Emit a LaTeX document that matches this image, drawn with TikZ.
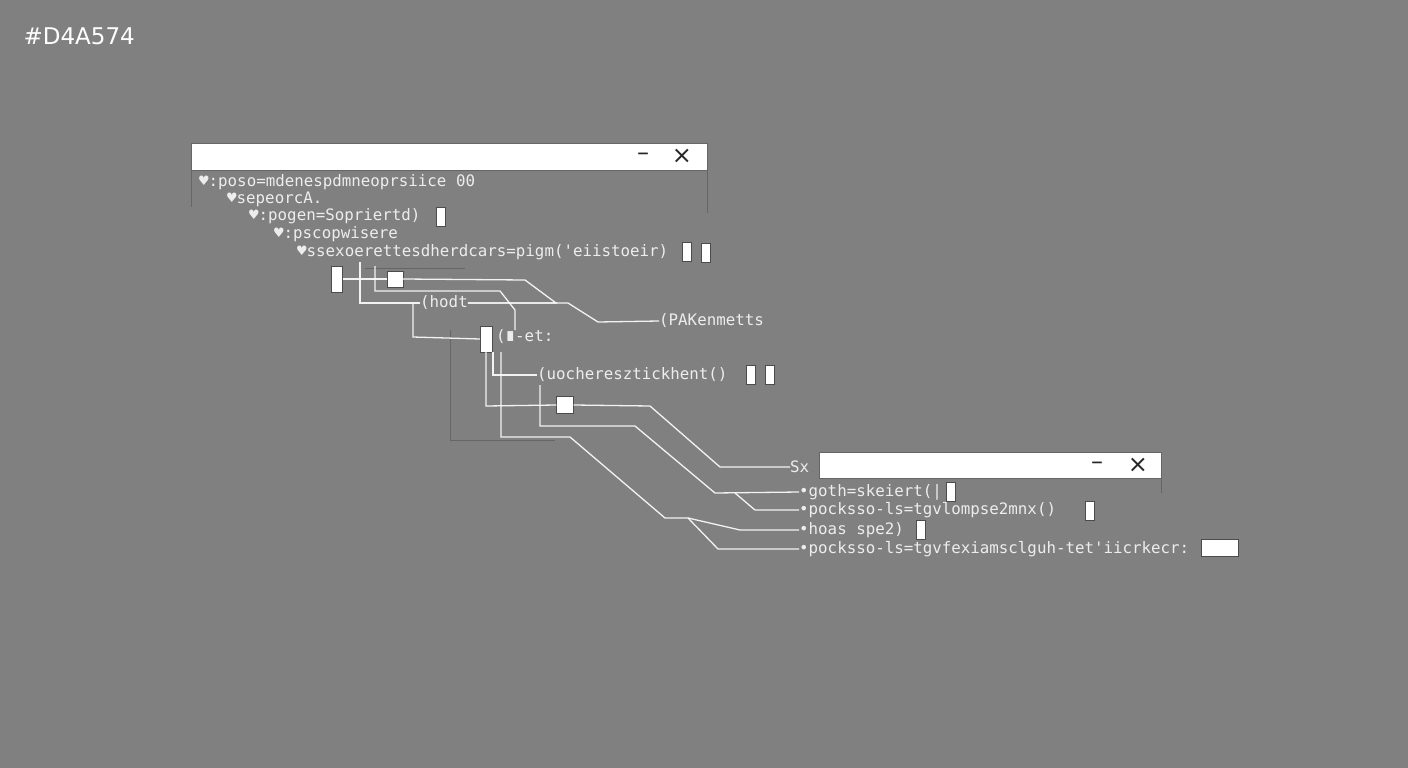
\documentclass[tikz,border=0pt]{standalone}
\usepackage{fontspec}
\setmainfont{DejaVu Sans}
\setmonofont{DejaVu Sans Mono}
\usetikzlibrary{positioning}
\definecolor{bggray}{HTML}{808080}
\definecolor{txtgray}{HTML}{EDEDED}
\begin{document}
\begin{tikzpicture}[x=1pt,y=-1pt]
\tikzstyle{code}=[anchor=west, inner sep=0pt, text=txtgray, font=\ttfamily\fontsize{15.8}{16}\selectfont]
\tikzstyle{win}=[fill=white, draw=black!60, thick]
\tikzstyle{ctl}=[font=\fontsize{24}{24}\selectfont, text=black!85]
\tikzstyle{tick}=[fill=white, draw=black!70, inner sep=0pt, minimum width=9pt, minimum height=19pt]
\tikzstyle{wire}=[white, line width=1.3pt, draw opacity=0.9]
\tikzstyle{guide}=[black!60, thin]
\fill[bggray] (0,0) rectangle (1408,768);
\useasboundingbox (0,0) rectangle (1408,768);
\node[anchor=west, text=white, font=\fontsize{23}{23}\selectfont] (hex) at (20,36) {\#D4A574};
% first window
\draw[win] (191,143) rectangle (707,170);
\node[ctl] (min1) at (643,157) {–};
\node[ctl] (cls1) at (682,156) {×};
\draw[guide] (191,170) -- (191,207) (707,170) -- (707,213);
\node[code] (l1) at (199,182) {♥:poso=mdenespdmneoprsiice 00};
\node[code] (l2) at (227,199) {♥sepeorcA.};
\node[code] (l3) at (249,216) {♥:pogen=Sopriertd)};
\node[tick] (t3) at (441,217) {};
\node[code] (l4) at (274,234) {♥:pscopwisere};
\node[code] (l5) at (297,252) {♥ssexoerettesdherdcars=pigm('eiistoeir)};
\node[tick] (t5a) at (687,252) {};
\node[tick] (t5b) at (706,253) {};
% boxes and labels
\node[tick, minimum height=26pt, minimum width=11pt] (boxa) at (337,279) {};
\node[tick, minimum width=16pt, minimum height=16pt] (boxb) at (395,279) {};
\node[code] (hodt) at (420,303) {(hodt};
\node[code] (pak) at (659,321) {(PAKenmetts};
\node[tick, minimum height=26pt, minimum width=12pt] (boxc) at (486,339) {};
\node[code] (et) at (496,337) {(∎-et:};
\node[code] (uoch) at (537,375) {(uocheresztickhent()};
\node[tick] (t6a) at (751,375) {};
\node[tick] (t6b) at (770,375) {};
\node[tick, minimum width=17pt, minimum height=17pt] (boxd) at (565,405) {};
% second window
\draw[win] (819,452) rectangle (1161,478);
\node[ctl] (min2) at (1097,466) {–};
\node[ctl] (cls2) at (1138,465) {×};
\draw[guide] (1161,478) -- (1161,493);
\node[code] (sx) at (790,467) {Sx};
\node[code] (b1) at (799,492) {•goth=skeiert(|};
\node[tick] (tb1) at (951,492) {};
\node[code] (b2) at (799,510) {•pocksso-ls=tgvlompse2mnx()};
\node[tick] (tb2) at (1090,511) {};
\node[code] (b3) at (799,530) {•hoas spe2)};
\node[tick] (tb3) at (921,530) {};
\node[code] (b4) at (799,549) {•pocksso-ls=tgvfexiamsclguh-tet'iicrkecr:};
\node[tick, minimum width=37pt, minimum height=17pt] (tb4) at (1220,548) {};
% connectors
\draw[guide] (450,330) -- (450,440) -- (555,440);
\draw[guide] (365,268) -- (465,268);
\draw[wire] (boxa.east) -- (boxb.west);
\draw[wire] (boxb.east) -- (525,280) -- (556,303) -- (hodt.east |- 0,303);
\draw[wire] (hodt.east) -- (568,303) -- (598,322) -- (pak.west);
\draw[wire] (360,262) -- (360,303) -- (hodt.west);
\draw[wire] (375,266) -- (375,291) -- (500,291) -- (515,310) -- (515,330);
\draw[wire] (413,303) -- (413,337) -- (boxc.west);
\draw[wire] (493,352) -- (493,375) -- (uoch.west);
\draw[wire] (486,352) -- (486,406) -- (boxd.west);
\draw[wire] (boxd.east) -- (650,406) -- (720,467) -- (sx.west);
\draw[wire] (540,385) -- (540,426) -- (635,426) -- (715,493) -- (b1.west);
\draw[wire] (735,493) -- (755,510) -- (b2.west);
\draw[wire] (501,352) -- (501,437) -- (570,437) -- (665,518) -- (688,518) -- (718,549) -- (b4.west);
\draw[wire] (688,518) -- (740,530) -- (b3.west);
\end{tikzpicture}
\end{document}
